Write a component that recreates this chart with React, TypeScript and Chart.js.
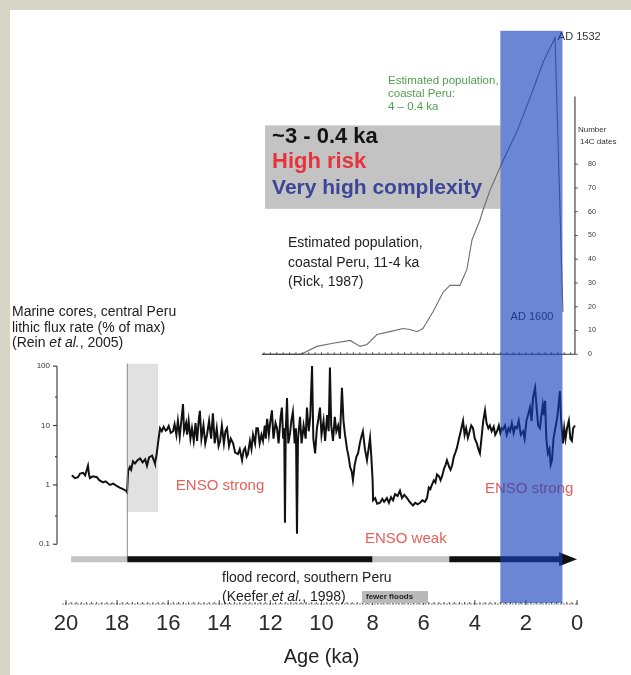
import React, { useEffect, useRef } from 'react';
import { Chart, registerables } from 'chart.js';

Chart.register(...registerables);

const FONT = '"Liberation Sans", Arial, Helvetica, sans-serif';

// ---------- axis ticks ----------
const ageTicks = [20, 18, 16, 14, 12, 10, 8, 6, 4, 2, 0];
const fluxTicks = [0.1, 1, 10, 100];
const popTicks = [0, 10, 20, 30, 40, 50, 60, 70, 80];

// ---------- lithic flux (Rein et al., 2005), [age ka, % of max] ----------
const fluxLateGlacial: [number, number][] = [
  [19.77, 1.45], [19.65, 1.3], [19.53, 1.35], [19.45, 1.55], [19.33, 1.6], [19.25, 1.45], [19.14, 2.1], [19.1, 1.5],
  [19.06, 1.3], [18.95, 1.4], [18.79, 1.35], [18.7, 1.2], [18.55, 1.1], [18.45, 1.15], [18.28, 1.0], [18.15, 1.05],
  [18.0, 0.95], [17.9, 0.9], [17.77, 0.85], [17.65, 0.8], [17.61, 0.75], [17.57, 1.7], [17.5, 2.0], [17.45, 1.8],
  [17.38, 2.5], [17.3, 2.3], [17.2, 2.6], [17.1, 2.8], [17.0, 2.4], [16.9, 2.7], [16.83, 2.1], [16.75, 2.9],
  [16.63, 3.1], [16.55, 2.5], [16.52, 2.3], [16.45, 3.3], [16.4, 5],
];
const fluxDeglacial: [number, number][] = [
  [16.32, 9], [16.25, 8], [16.18, 9.5], [16.1, 8.2], [16.05, 8.5], [15.98, 9.8], [15.9, 7.5], [15.81, 8],
  [15.75, 10.5], [15.68, 7], [15.62, 12], [15.55, 6.5], [15.47, 14], [15.42, 23], [15.38, 8], [15.3, 11],
  [15.26, 7], [15.2, 12], [15.13, 6], [15.07, 9], [15.0, 5.5], [14.93, 11], [14.87, 5.5], [14.8, 13],
  [14.76, 17.7], [14.7, 6], [14.62, 10], [14.55, 5], [14.48, 7], [14.4, 12], [14.32, 6], [14.25, 16],
  [14.18, 5], [14.1, 9], [14.03, 4.5], [13.97, 5.5], [13.9, 10], [13.82, 5], [13.76, 8], [13.7, 9],
  [13.62, 4.5], [13.55, 6], [13.46, 5], [13.38, 3.5], [13.27, 3.3], [13.2, 4], [13.11, 2.6], [13.05, 3.8],
  [12.99, 4.2], [12.93, 3], [12.88, 3.3], [12.8, 5.5], [12.74, 4], [12.68, 7], [12.6, 5], [12.55, 9],
  [12.49, 9], [12.42, 5], [12.35, 7], [12.29, 5.5],
];
const fluxEarlyHolocene: [number, number][] = [
  [12.22, 10], [12.18, 6], [12.13, 13], [12.06, 7], [12.0, 12], [11.94, 18], [11.88, 6], [11.8, 11],
  [11.74, 9], [11.68, 5], [11.6, 14], [11.55, 20], [11.5, 6], [11.46, 9], [11.43, 0.23], [11.4, 8],
  [11.35, 29], [11.3, 5], [11.23, 7.5], [11.18, 12], [11.12, 17], [11.05, 5], [11.0, 9], [10.96, 0.15],
  [10.92, 6], [10.84, 14], [10.78, 5], [10.7, 10], [10.62, 6], [10.57, 20], [10.5, 8], [10.44, 14],
  [10.37, 100], [10.32, 6], [10.25, 3.4], [10.18, 9], [10.12, 13], [10.06, 20], [10.0, 7], [9.92, 12],
  [9.86, 5.5], [9.78, 15], [9.72, 8], [9.67, 95], [9.62, 10], [9.55, 5.5], [9.48, 14], [9.42, 8],
  [9.35, 10], [9.28, 6], [9.2, 43], [9.14, 12], [9.08, 7], [9.0, 4], [8.94, 3], [8.88, 2],
  [8.82, 1.7], [8.77, 1.2], [8.7, 2.2], [8.63, 3], [8.57, 3.4], [8.5, 5], [8.44, 6.5], [8.38, 8],
  [8.3, 4], [8.22, 2.6], [8.16, 4], [8.1, 6.2], [8.05, 3], [8.0, 1.2],
];
const fluxMidHolocene: [number, number][] = [
  [7.98, 0.55], [7.9, 0.6], [7.82, 0.48], [7.71, 0.5], [7.62, 0.58], [7.55, 0.52], [7.44, 0.6], [7.36, 0.5],
  [7.28, 0.62], [7.2, 0.55], [7.12, 0.7], [7.02, 0.65], [6.93, 0.8], [6.85, 0.6], [6.76, 0.68], [6.65, 0.6],
  [6.55, 0.52], [6.48, 0.48], [6.42, 0.45], [6.33, 0.5], [6.24, 0.47], [6.14, 0.5], [6.05, 0.55], [5.95, 0.52],
  [5.87, 0.6], [5.8, 0.9], [5.74, 0.85], [5.68, 1.0], [5.6, 1.2], [5.54, 1.1], [5.48, 1.5], [5.4, 1.4],
  [5.34, 1.2], [5.28, 1.4], [5.2, 1.9], [5.14, 2.2], [5.09, 2.6], [5.0, 2.0], [4.95, 1.8], [4.89, 2.1],
  [4.82, 3], [4.76, 3.5], [4.7, 4.2], [4.62, 6], [4.55, 8], [4.46, 12], [4.4, 7], [4.34, 9],
  [4.27, 6.2], [4.2, 8], [4.14, 10], [4.07, 9], [4.0, 6], [3.92, 5], [3.86, 4], [3.8, 3.4],
  [3.74, 6], [3.67, 12], [3.6, 18], [3.54, 11], [3.47, 9], [3.41, 10], [3.34, 8], [3.26, 9.5],
  [3.2, 7], [3.13, 8], [3.06, 10],
];
const fluxLateHolocene: [number, number][] = [
  [3.0, 7.5], [2.95, 9], [2.9, 8.5], [2.82, 10], [2.75, 7], [2.68, 9], [2.62, 8], [2.55, 11],
  [2.48, 7.5], [2.42, 9.5], [2.35, 9], [2.28, 12], [2.2, 7], [2.11, 8], [2.05, 6], [1.98, 12],
  [1.9, 16], [1.84, 20], [1.78, 12], [1.72, 30], [1.64, 43], [1.58, 20], [1.52, 10], [1.45, 9],
  [1.4, 14], [1.34, 22], [1.3, 15], [1.25, 26], [1.2, 6], [1.14, 3.4], [1.08, 4], [1.03, 2.2],
  [0.98, 2.6], [0.92, 6], [0.85, 9], [0.78, 13], [0.73, 20], [0.67, 38], [0.62, 12], [0.55, 5],
  [0.5, 9], [0.45, 6], [0.39, 9], [0.32, 12], [0.26, 6], [0.2, 5.5], [0.15, 9], [0.08, 10],
];

// ---------- estimated population / number of 14C dates ----------
const popRick: [number, number][] = [
  [12.33, 0], [10.84, 0], [10.72, 0.4], [10.18, 3.3], [9.55, 4.6], [8.88, 5.8], [8.49, 3.3], [8.22, 4.1],
  [7.83, 8.3], [7.32, 9.5], [6.81, 10.8], [6.54, 10.4], [6.26, 9.5], [6.03, 10.8], [5.64, 17.8], [5.24, 26.1],
  [4.97, 29.0], [4.58, 29.0], [4.31, 35.7], [4.11, 48.1],
];
const popLate: [number, number][] = [
  [4.11, 48.1], [3.8, 56.4], [3.68, 60.6], [3.41, 68.9], [2.9, 81.3], [2.35, 93.8], [1.84, 107.9],
  [1.33, 122.8], [0.86, 133.2], [0.55, 17.8],
];

// ---------- flood record (Keefer et al., 1998) ----------
const floodStart = [19.8, 17.6, 8.0, 5.0];
const floodEnd = [17.6, 8.0, 5.0, 0.6];
const floodMany = [false, true, false, true];

// ---------- shaded periods (ka) ----------
const highRiskBand = [3.0, 0.57];
const transitionBand = [17.6, 16.4];

const toPts = (arr: [number, number][]) => arr.map(([x, y]) => ({ x, y }));

function line(ctx: CanvasRenderingContext2D, x1: number, y1: number, x2: number, y2: number) {
  ctx.beginPath();
  ctx.moveTo(x1, y1);
  ctx.lineTo(x2, y2);
  ctx.stroke();
}

function rich(ctx: CanvasRenderingContext2D, parts: { t: string; i?: boolean }[], x: number, y: number, size: number, color: string) {
  let cx = x;
  ctx.fillStyle = color;
  for (const p of parts) {
    ctx.font = `${p.i ? 'italic ' : ''}${size}px ${FONT}`;
    ctx.fillText(p.t, cx, y);
    cx += ctx.measureText(p.t).width;
  }
}

const decor = {
  id: 'decor',
  beforeDatasetsDraw(chart: any) {
    const { ctx, scales } = chart;
    const X = (v: number) => scales.x.getPixelForValue(v);
    const L = (v: number) => scales.yLog.getPixelForValue(v);
    const P = (v: number) => scales.yPop.getPixelForValue(v);
    ctx.save();
    // light transition band
    ctx.fillStyle = '#e1e1e1';
    ctx.fillRect(X(transitionBand[0]), L(110), X(transitionBand[1]) - X(transitionBand[0]), L(0.35) - L(110));
    // grey summary box
    const bx = X(12.21), by = P(96.3);
    ctx.fillStyle = '#c3c3c3';
    ctx.fillRect(bx, by, X(highRiskBand[0]) - bx, P(61.2) - by);
    ctx.textBaseline = 'middle';
    ctx.textAlign = 'left';
    ctx.font = `bold 22px ${FONT}`;
    ctx.fillStyle = '#141414';
    ctx.fillText('~3 - 0.4 ka', bx + 7, by + 12);
    ctx.fillStyle = '#e8333c';
    ctx.fillText('High risk', bx + 7, by + 37);
    ctx.font = `bold 21px ${FONT}`;
    ctx.fillStyle = '#3b4696';
    ctx.fillText('Very high complexity', bx + 7, by + 63);
    ctx.restore();
  },
  afterDatasetsDraw(chart: any) {
    const { ctx, chartArea: ca, scales } = chart;
    const X = (v: number) => scales.x.getPixelForValue(v);
    const L = (v: number) => scales.yLog.getPixelForValue(v);
    const P = (v: number) => scales.yPop.getPixelForValue(v);
    ctx.save();
    ctx.lineCap = 'butt';

    // log axis
    const ax = ca.left - 9;
    ctx.strokeStyle = '#444';
    ctx.lineWidth = 1.2;
    line(ctx, ax, L(100), ax, L(0.1));
    fluxTicks.forEach((v) => line(ctx, ax - 4, L(v), ax, L(v)));
    [0.3, 3, 30].forEach((v) => line(ctx, ax - 2, L(v), ax, L(v)));

    // inset axes
    const ix0 = X(popRick[0][0]);
    const ixr = X(0.08);
    ctx.strokeStyle = '#333';
    ctx.lineWidth = 1.1;
    line(ctx, ix0, P(0), ixr, P(0));
    line(ctx, ixr, P(0), ixr, P(108.5));
    ctx.lineWidth = 0.8;
    for (let i = 0; i <= 48; i++) {
      const a = 12.25 - i * 0.25;
      line(ctx, X(a), P(0), X(a), P(0) - 2);
    }
    popTicks.forEach((v) => line(ctx, ixr, P(v), ixr + 3, P(v)));

    // transition boundary line
    const barY = L(0.056);
    ctx.strokeStyle = '#8a8a8a';
    ctx.lineWidth = 1;
    line(ctx, X(transitionBand[0]), L(110), X(transitionBand[0]), barY);

    // main dotted age axis
    ctx.strokeStyle = '#555';
    ctx.lineWidth = 1;
    ctx.setLineDash([1.5, 1.5]);
    line(ctx, X(20.15), ca.bottom, X(-0.05), ca.bottom);
    ctx.setLineDash([]);
    for (let i = 0; i <= 100; i++) line(ctx, X(i * 0.2), ca.bottom, X(i * 0.2), ca.bottom - 2);
    ageTicks.forEach((v) => line(ctx, X(v), ca.bottom + 1, X(v), ca.bottom - 4));

    // flood record bar
    ctx.lineWidth = 6;
    floodStart.forEach((s, i) => {
      ctx.strokeStyle = floodMany[i] ? '#111' : '#c4c4c4';
      line(ctx, X(s), barY, X(floodEnd[i]), barY);
    });
    ctx.fillStyle = '#111';
    ctx.beginPath();
    ctx.moveTo(X(0.7), barY - 7);
    ctx.lineTo(X(0), barY);
    ctx.lineTo(X(0.7), barY + 7);
    ctx.closePath();
    ctx.fill();

    // texts
    ctx.textBaseline = 'middle';
    ctx.textAlign = 'left';
    ctx.fillStyle = '#222';
    ctx.font = `14px ${FONT}`;
    ctx.fillText('Marine cores, central Peru', 2, 302);
    ctx.fillText('lithic flux rate (% of max)', 2, 318);
    rich(ctx, [{ t: '(Rein ' }, { t: 'et al.', i: true }, { t: ', 2005)' }], 2, 333, 14, '#222');

    ctx.fillStyle = '#222';
    ctx.font = `14px ${FONT}`;
    ctx.fillText('Estimated population,', 278, 233);
    ctx.fillText('coastal Peru, 11-4 ka', 278, 253);
    ctx.fillText('(Rick, 1987)', 278, 272);

    ctx.fillStyle = '#4f9f4f';
    ctx.font = `11.5px ${FONT}`;
    ctx.fillText('Estimated population,', 378, 71);
    ctx.fillText('coastal Peru:', 378, 84);
    ctx.fillText('4 \u2013 0.4 ka', 378, 97);

    ctx.fillStyle = '#333';
    ctx.font = `11px ${FONT}`;
    ctx.fillText('AD 1532', X(0.75), P(133.5));
    ctx.fillText('AD 1600', X(2.6), P(15.5));

    ctx.font = `8px ${FONT}`;
    ctx.fillStyle = '#333';
    ctx.fillText('Number', ixr + 3, 120);
    ctx.fillText('14C dates', ixr + 5, 132);

    ctx.font = `15px ${FONT}`;
    ctx.fillStyle = '#e5605a';
    ctx.fillText('ENSO strong', X(15.7), L(0.95));
    ctx.fillText('ENSO weak', X(8.3), L(0.125));
    ctx.fillText('ENSO strong', X(3.6), L(0.85));

    ctx.fillStyle = '#222';
    ctx.font = `14px ${FONT}`;
    ctx.fillText('flood record, southern Peru', 212, 568);
    rich(ctx, [{ t: '(Keefer ' }, { t: 'et al.', i: true }, { t: ', 1998)' }], 212, 587, 14, '#222');
    ctx.fillStyle = '#b9b9b9';
    ctx.fillRect(352, 581, 66, 12);
    ctx.fillStyle = '#222';
    ctx.font = `bold 8px ${FONT}`;
    ctx.fillText('fewer floods', 356, 587);

    // high-risk period overlay
    ctx.fillStyle = 'rgba(20, 64, 188, 0.63)';
    ctx.fillRect(X(highRiskBand[0]), ca.top, X(highRiskBand[1]) - X(highRiskBand[0]), ca.bottom - 1 - ca.top);
    ctx.restore();
  },
};

export default function App() {
  const ref = useRef<HTMLCanvasElement | null>(null);
  useEffect(() => {
    if (!ref.current) return;
    const flux = [...fluxLateGlacial, ...fluxDeglacial, ...fluxEarlyHolocene, ...fluxMidHolocene, ...fluxLateHolocene];
    const pop = [...popRick, ...popLate.slice(1)];
    const chart = new Chart(ref.current, {
      type: 'line',
      data: {
        datasets: [
          {
            label: 'Lithic flux',
            data: toPts(flux),
            xAxisID: 'x',
            yAxisID: 'yLog',
            borderColor: '#111',
            borderWidth: 2,
            pointRadius: 0,
            tension: 0,
          },
          {
            label: 'Population',
            data: toPts(pop),
            xAxisID: 'x',
            yAxisID: 'yPop',
            borderColor: '#6f6f6f',
            borderWidth: 1.1,
            pointRadius: 0,
            tension: 0,
          },
        ],
      },
      options: {
        animation: false,
        responsive: false,
        events: [],
        layout: { padding: { top: 18, left: 0, right: 0, bottom: 0 } },
        plugins: { legend: { display: false }, tooltip: { enabled: false }, title: { display: false } },
        scales: {
          x: {
            type: 'linear',
            position: 'bottom',
            min: 0,
            max: 20,
            reverse: true,
            grid: { display: false, drawTicks: false },
            border: { display: false },
            afterBuildTicks: (s: any) => {
              s.ticks = ageTicks.map((v) => ({ value: v }));
            },
            afterFit: (s: any) => {
              s.height = 71;
            },
            ticks: {
              font: { size: 22, family: FONT },
              color: '#2a2a2a',
              padding: 7,
              maxRotation: 0,
              autoSkip: false,
              callback: (v: any) => String(v),
            },
            title: {
              display: true,
              text: 'Age (ka)',
              font: { size: 20, family: FONT },
              color: '#222',
              padding: { top: 0, bottom: 6 },
            },
          },
          yLog: {
            type: 'logarithmic',
            position: 'left',
            min: 0.00987,
            max: 4.44e7,
            grid: { display: false, drawTicks: false },
            border: { display: false },
            afterBuildTicks: (s: any) => {
              s.ticks = fluxTicks.map((v) => ({ value: v }));
            },
            afterFit: (s: any) => {
              s.width = 56;
            },
            ticks: {
              font: { size: 8, family: FONT },
              color: '#333',
              padding: 16,
              autoSkip: false,
              callback: (v: any) => String(v),
            },
          },
          yPop: {
            type: 'linear',
            position: 'right',
            min: -105.13,
            max: 136.13,
            grid: { display: false, drawTicks: false },
            border: { display: false },
            afterBuildTicks: (s: any) => {
              s.ticks = popTicks.map((v) => ({ value: v }));
            },
            afterFit: (s: any) => {
              s.width = 54;
            },
            ticks: {
              font: { size: 7, family: FONT },
              color: '#333',
              padding: 11,
              autoSkip: false,
              callback: (v: any) => String(v),
            },
          },
        },
      } as any,
      plugins: [decor],
    });
    return () => chart.destroy();
  }, []);

  return (
    <div style={{ position: 'fixed', left: 0, top: 0, width: 631, height: 675, background: '#d7d5c6', overflow: 'hidden' }}>
      <canvas
        ref={ref}
        width={621}
        height={665}
        style={{ position: 'absolute', left: 10, top: 10, width: 621, height: 665, background: '#ffffff' }}
      />
    </div>
  );
}
